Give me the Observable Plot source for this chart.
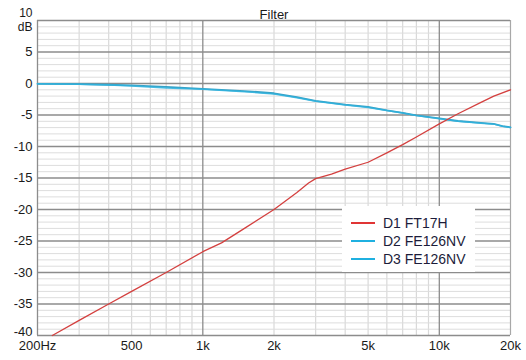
<!DOCTYPE html>
<html>
<head>
<meta charset="utf-8">
<script src="https://cdn.jsdelivr.net/npm/d3@7"></script>
<script src="https://cdn.jsdelivr.net/npm/@observablehq/plot@0.6"></script>
<style>
  html, body { margin: 0; padding: 0; background: #fff; }
  #wrap { position: relative; width: 526px; height: 360px; font-family: "Liberation Sans", Arial, sans-serif; }
  #legend { position: absolute; left: 342px; top: 206px; width: 133px; height: 66px; background: #fff; }
  .row { position: absolute; left: 0; height: 18px; display: flex; align-items: center; font-size: 14px; color: #1c1c3a; }
  .sw { display: inline-block; width: 24px; height: 0; border-top: 2px solid; margin-left: 9px; margin-right: 8px; }
</style>
</head>
<body>
<div id="wrap"></div>
<script>
const seriesNames = ["D1 FT17H", "D2 FE126NV", "D3 FE126NV"];
const seriesColors = ["#d4403f", "#2fb3de", "#3aa2c6"];

const d1Freq = [231, 300, 400, 500, 700, 1000, 1200, 1500, 2000, 2500, 2800, 3000, 3500, 4000, 5000, 6000, 7000, 8000, 10000, 12000, 15000, 17000, 20000];
const d1Db   = [-40, -37.6, -35.0, -33.0, -30.0, -26.7, -25.3, -23.0, -20.0, -17.3, -15.8, -15.1, -14.4, -13.6, -12.5, -11.0, -9.7, -8.5, -6.4, -4.8, -3.0, -2.0, -1.0];

const d2Freq = [200, 300, 400, 500, 700, 1000, 1500, 2000, 2500, 3000, 4000, 5000, 6000, 7000, 8000, 10000, 12000, 15000, 17000, 18500, 20000];
const d2Db   = [-0.05, -0.1, -0.25, -0.4, -0.7, -0.9, -1.3, -1.65, -2.25, -2.8, -3.4, -3.8, -4.3, -4.7, -5.1, -5.6, -6.0, -6.3, -6.45, -6.8, -7.0];

const d3Freq = [200, 300, 400, 500, 700, 1000, 1500, 2000, 2500, 3000, 4000, 5000, 6000, 7000, 8000, 10000, 12000, 15000, 17000, 18500, 20000];
const d3Db   = [-0.05, -0.1, -0.2, -0.3, -0.55, -0.85, -1.2, -1.55, -2.15, -2.75, -3.35, -3.7, -4.25, -4.65, -5.05, -5.55, -5.95, -6.25, -6.4, -6.75, -6.95];

const xTicks = [200, 500, 1000, 2000, 5000, 10000, 20000];
const xTickLabels = ["200Hz", "500", "1k", "2k", "5k", "10k", "20k"];
const xMajor = [200, 1000, 10000];
const xMinor = [300, 400, 500, 600, 700, 800, 900, 2000, 3000, 4000, 5000, 6000, 7000, 8000, 9000];
const xEdge = [20000];
const yTicks = [10, 5, 0, -5, -10, -15, -20, -25, -30, -35, -40];
const yMinor = d3.range(-40, 11, 1).filter(v => v % 5 !== 0);
const yUnit = "dB";
const title = "Filter";

const rows = [];
[[d1Freq, d1Db], [d2Freq, d2Db], [d3Freq, d3Db]].forEach(([fs, ds], k) => {
  fs.forEach((f, i) => rows.push({f, db: ds[i], k}));
});
const lineOf = k => rows.filter(r => r.k === k);

const chart = Plot.plot({
  width: 526,
  height: 360,
  marginTop: 20,
  marginLeft: 37,
  marginRight: 16,
  marginBottom: 25,
  x: {type: "log", domain: [200, 20000], axis: null},
  y: {domain: [-40, 10], axis: null},
  style: {fontFamily: "Liberation Sans, Arial, sans-serif", fontSize: "13px", background: "#fff", color: "#1a1a1a"},
  marks: [
    Plot.ruleX(xMinor, {x: d => d, stroke: "#d9d9d9", strokeWidth: 1.2}),
    Plot.ruleY(yMinor, {y: d => d, stroke: "#dddddd", strokeWidth: 1}),
    Plot.ruleX(xEdge, {x: d => d, stroke: "#a8a8a8", strokeWidth: 1.2}),
    Plot.ruleX(xMajor, {x: d => d, stroke: "#8c8c8c", strokeWidth: 1.3}),
    Plot.ruleY(yTicks, {y: d => d, stroke: "#8c8c8c", strokeWidth: 1.3}),
    Plot.line(lineOf(2), {x: "f", y: "db", stroke: seriesColors[2], strokeWidth: 1.8, curve: "linear"}),
    Plot.line(lineOf(1), {x: "f", y: "db", stroke: seriesColors[1], strokeWidth: 1.5, strokeOpacity: 0.85, curve: "linear"}),
    Plot.line(lineOf(0), {x: "f", y: "db", stroke: seriesColors[0], strokeWidth: 1.3, curve: "linear"}),
    Plot.text(xTicks, {x: d => d, text: (d, i) => xTickLabels[i], frameAnchor: "bottom", dy: 14, fontSize: 13, fill: "#1a1a1a"}),
    Plot.text(yTicks.filter(d => d !== 10 && d !== -40), {y: d => d, text: d => String(d), frameAnchor: "left", dx: -5, textAnchor: "end", fontSize: 13, fill: "#1a1a1a"}),
    Plot.text([-40], {y: d => d, text: d => String(d), frameAnchor: "left", dx: -5, dy: -4, textAnchor: "end", fontSize: 13, fill: "#1a1a1a"}),
    Plot.text([10], {y: d => d, text: d => String(d), frameAnchor: "left", dx: -5, dy: -7, textAnchor: "end", fontSize: 12, fill: "#1a1a1a"}),
    Plot.text([10], {y: d => d, text: () => yUnit, frameAnchor: "left", dx: -5, dy: 7, textAnchor: "end", fontSize: 12, fill: "#1a1a1a"}),
    Plot.text([title], {frameAnchor: "top", dy: -11, text: d => d, fontSize: 13, fill: "#1a1a1a"})
  ]
});

const wrap = document.getElementById("wrap");
wrap.appendChild(chart);

const legend = document.createElement("div");
legend.id = "legend";
seriesNames.forEach((name, k) => {
  const row = document.createElement("div");
  row.className = "row";
  row.style.top = (8 + k * 18) + "px";
  const sw = document.createElement("span");
  sw.className = "sw";
  sw.style.borderTopColor = k === 0 ? "#e03535" : "#1fb0e0";
  const label = document.createElement("span");
  label.textContent = name;
  row.appendChild(sw);
  row.appendChild(label);
  legend.appendChild(row);
});
wrap.appendChild(legend);
</script>
</body>
</html>
